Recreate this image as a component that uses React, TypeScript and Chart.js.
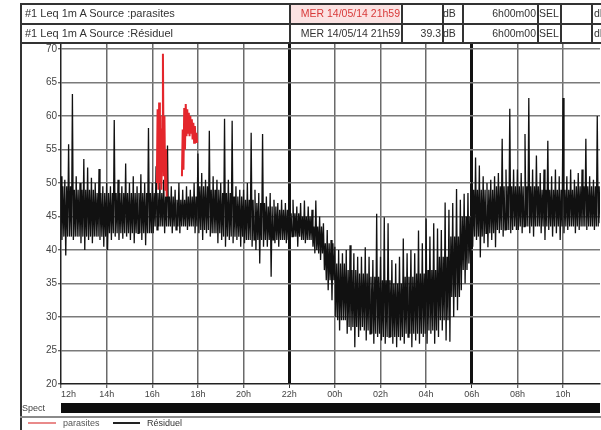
import React, { useEffect, useRef } from "react";
import { Chart, registerables } from "chart.js";
Chart.register(...registerables);

const FONT = '"Liberation Sans", Arial, Helvetica, sans-serif';

// ---- data ----
const xTickHours = [12, 14, 16, 18, 20, 22, 24, 26, 28, 30, 32, 34];
const xEndHour = 35.62;
const yTickValues = [20, 25, 30, 35, 40, 45, 50, 55, 60, 65, 70];
const thickHours = [22, 30];

// Résiduel: 10-minute bins from 12:00 (max and min of each bin)
const binStartHour = 12;
const binMinutes = 10;
const residuelHigh = [
  51, 50.5, 55.8, 63.3, 51, 50,
  53.6, 52.3, 50.8, 50, 52.1, 49.5,
  50, 49.5, 59.4, 50.5, 49.5, 52.9,
  50, 51, 49.5, 51.3, 50, 58.2,
  50, 52.5, 50, 50.5, 55.6, 49.5,
  49, 50, 49, 49.5, 49, 50,
  54.4, 51.5, 50.5, 57.8, 51, 50.5,
  50, 59.6, 50.5, 59.3, 49.5, 49,
  49, 50, 57.5, 49, 48.5, 57.3,
  48, 48.5, 47.5, 47, 47.5, 47,
  47, 47.5, 46.5, 47, 47.4, 46.5,
  46, 47.4, 45, 44, 43, 41.5,
  40.5, 40, 39.5, 40, 40.7, 39.5,
  39, 39, 40.4, 39, 38.5, 45.4,
  39, 44.9, 44, 38.5, 38, 39,
  41.7, 39.5, 40, 39.5, 42.9, 41,
  44.7, 42, 44, 43.2, 43, 47.1,
  46, 47, 49.1, 47.5, 48.4, 48.5,
  51, 53.8, 52.6, 51, 50, 50.5,
  51, 51.5, 56.6, 52, 61.1, 52,
  52, 51.5, 57.3, 62.7, 52, 54.1,
  51.5, 52, 56.3, 51, 52, 51,
  62.7, 51, 52, 50.5, 51.5, 52,
  56.6, 51, 50.5, 60,
];
const residuelLow = [
  41.5, 39.2, 42, 41.5, 42, 41,
  40, 41.5, 41, 42, 41.5, 40.5,
  40, 41.5, 42, 41.5, 41.7, 42,
  41.5, 41, 42.5, 41.5, 40.7, 42.5,
  42.5, 43, 43.5, 42.5, 43.5, 42.5,
  43, 42.5, 43.5, 43, 43.5, 42.5,
  42.5, 41.5, 42.5, 42, 42.5, 41,
  41.5, 40.5, 41.5, 41, 41.5, 40.5,
  41, 41.5, 40.5, 40, 38, 40.5,
  40.5, 36, 41, 40.5, 41.5, 41,
  41.5, 42, 40.5, 41.5, 41, 41.5,
  40.5, 40, 38.5, 37, 34, 32.5,
  30, 28, 29.5, 27.5, 28, 25.5,
  27, 28.5, 26.5, 27.5, 26, 27,
  26.5, 26, 27, 26, 25.5, 26.5,
  26, 27, 25.5, 26.5, 26, 27,
  26, 27.5, 26, 27, 28, 26.5,
  26.3, 30, 31, 34, 35, 38,
  40.5, 41.5, 38.9, 41, 40.4, 41.5,
  40.4, 42.5, 42, 43, 42.5, 43.5,
  43, 42.5, 43.5, 42.5, 42, 43.5,
  42.5, 41.5, 43, 42, 42.5, 41.5,
  42.5, 43, 43.5, 42.5, 43, 43.5,
  43, 43.5, 43, 43.5,
];
// dense core of the band, per half hour from 12:00
const coreMinutes = 30;
const coreTop = [
  49.5, 49, 49, 48.5, 48.5, 48.5, 48.5, 48.5, 48.5, 48, 47.5, 48,
  49.5, 49, 48.5, 48, 47.5, 47, 46.5, 46, 45.5, 45, 43.5, 41,
  38, 37, 36.5, 36, 35.5, 35, 36, 36.5, 37, 39, 42, 45,
  49, 49, 49.5, 49.5, 49.5, 49.5, 49, 49, 49, 49.5, 49.5, 49.5,
];
const coreBottom = [
  42, 42, 42, 42, 42.5, 42.5, 42.5, 42.5, 43.5, 43.5, 43.5, 43.5,
  43, 42.5, 42, 42, 41.5, 41.5, 41.5, 41.5, 42, 41.5, 39.5, 35.5,
  29.5, 28.5, 28, 27.5, 27, 27, 27.5, 27.5, 28, 29.5, 33, 37,
  42, 42.5, 43, 43, 43.5, 43.5, 43.5, 43.5, 43.5, 43.5, 43.5, 44,
];

const parasitesStepMinutes = 2;
const parasitesStartA = 16.2; // 16:12
const parasitesA = [50, 61, 49, 62, 50, 60, 49, 58, 69.3, 51, 60, 49, 55, 48];
const parasitesStartB = 17.3; // 17:18
const parasitesB = [51, 58, 52, 61.2, 55, 61.8, 57, 61, 57.5, 60.5, 57, 60, 57.5, 59.5, 56.5, 59, 56, 58.5, 56, 57.5, 56];

const headerLabels = ["#1 Leq 1m A Source :parasites", "#1 Leq 1m A Source :Résiduel"];
const headerDates = ["MER 14/05/14 21h59", "MER 14/05/14 21h59"];
const headerValues = ["", "39.3"];
const headerUnit = "dB";
const headerDurations = ["6h00m00", "6h00m00"];
const headerSel = "SEL";
const legendLabels = ["parasites", "Résiduel"];
const spectLabel = "Spect";

const RED = "#e4262c";
const BLACK = "#111";

function buildResiduel() {
  const pts: { x: number; y: number }[] = [];
  const q = binMinutes / 4 / 60;
  for (let i = 0; i < residuelHigh.length; i++) {
    const t0 = binStartHour + (i * binMinutes) / 60;
    const k = Math.floor((i * binMinutes) / coreMinutes);
    pts.push({ x: t0, y: residuelHigh[i] });
    pts.push({ x: t0 + q, y: residuelLow[i] });
    pts.push({ x: t0 + 2 * q, y: coreTop[k] });
    pts.push({ x: t0 + 3 * q, y: coreBottom[k] });
  }
  return pts;
}

function buildParasites() {
  const pts: { x: number; y: number | null }[] = [];
  parasitesA.forEach((v, j) => pts.push({ x: parasitesStartA + (j * parasitesStepMinutes) / 60, y: v }));
  pts.push({ x: (parasitesStartA + parasitesStartB) / 2 + 0.2, y: null });
  parasitesB.forEach((v, j) => pts.push({ x: parasitesStartB + (j * parasitesStepMinutes) / 60, y: v }));
  return pts;
}

const spectPlugin = {
  id: "spect",
  afterDraw(chart: any) {
    const { ctx } = chart;
    const xs = chart.scales.x;
    const area = chart.chartArea;
    const x0 = xs.getPixelForValue(xs.min);
    const x1 = xs.getPixelForValue(xs.max);
    ctx.save();
    ctx.fillStyle = "#0d0d0d";
    ctx.fillRect(x0, area.bottom + 19, x1 - x0, 10);
    ctx.fillStyle = "#444";
    ctx.font = `9px ${FONT}`;
    ctx.textBaseline = "middle";
    ctx.textAlign = "left";
    ctx.fillText(spectLabel, 22, area.bottom + 25);
    ctx.restore();
  },
};

function pad2(n: number) {
  return (n < 10 ? "0" : "") + n + "h";
}

const colLines = [289, 401, 442, 462, 537, 560, 591];

export default function App() {
  const ref = useRef<HTMLCanvasElement>(null);
  useEffect(() => {
    const chart = new Chart(ref.current!, {
      type: "line",
      data: {
        datasets: [
          {
            label: legendLabels[0],
            data: buildParasites(),
            borderColor: RED,
            borderWidth: 2,
            pointRadius: 0,
            spanGaps: false,
            tension: 0,
          },
          {
            label: legendLabels[1],
            data: buildResiduel(),
            borderColor: BLACK,
            borderWidth: 1.3,
            pointRadius: 0,
            tension: 0,
          },
        ],
      },
      options: {
        animation: false,
        responsive: false,
        devicePixelRatio: 1,
        layout: { padding: { left: 20, top: 43, right: 0, bottom: 24 } },
        plugins: { legend: { display: false }, tooltip: { enabled: false }, title: { display: false } },
        scales: {
          x: {
            type: "linear",
            min: 12,
            max: xEndHour,
            afterBuildTicks: (s: any) => {
              s.ticks = [...xTickHours, xEndHour].map((v) => ({ value: v }));
            },
            afterFit: (s: any) => {
              s.height = 22;
            },
            ticks: {
              autoSkip: false,
              maxRotation: 0,
              align: "inner",
              padding: 1,
              color: "#444",
              font: { family: FONT, size: 9 },
              callback: (v: any) => (xTickHours.includes(v) ? pad2(v % 24) : ""),
            },
            grid: {
              color: (c: any) => {
                const v = c.tick?.value;
                if (v === 12 || v === xEndHour) return "rgba(0,0,0,0)";
                return thickHours.includes(v) ? "#111" : "#6a6a6a";
              },
              lineWidth: (c: any) => (thickHours.includes(c.tick?.value) ? 3 : 1.5),
              tickLength: 4,
              tickWidth: 1,
              tickColor: (c: any) => (c.tick?.value === xEndHour ? "rgba(0,0,0,0)" : "#333"),
            },
            border: { display: true, color: "#222", width: 1.5 },
          },
          y: {
            type: "linear",
            min: 20,
            max: 70.9,
            afterBuildTicks: (s: any) => {
              s.ticks = yTickValues.map((v) => ({ value: v }));
            },
            afterFit: (s: any) => {
              s.width = 41;
            },
            ticks: {
              padding: 1,
              color: "#444",
              font: { family: FONT, size: 10 },
              callback: (v: any) => String(v),
            },
            grid: {
              color: (c: any) => (c.tick?.value === 20 ? "rgba(0,0,0,0)" : "#7a7a7a"),
              lineWidth: 1.5,
              tickLength: 3,
              tickWidth: 1,
              tickColor: "#333",
            },
            border: { display: true, color: "#222", width: 1.5 },
          },
        },
      },
      plugins: [spectPlugin],
    } as any);
    return () => chart.destroy();
  }, []);

  const txt: React.CSSProperties = {
    position: "absolute",
    fontFamily: FONT,
    fontSize: 10.5,
    color: "#333",
    whiteSpace: "nowrap",
    lineHeight: "18px",
  };

  return (
    <div style={{ position: "fixed", left: 0, top: 0, width: 601, height: 430, background: "#fff", overflow: "hidden" }}>
      <canvas ref={ref} width={601} height={430} style={{ position: "absolute", left: 0, top: 0, width: 601, height: 430 }} />
      {/* header table */}
      <div style={{ position: "absolute", left: 290, top: 4.5, width: 110, height: 18, background: "#fbe2e2" }} />
      {[3, 23, 42].map((y) => (
        <div key={"h" + y} style={{ position: "absolute", left: 20, top: y, width: 600, height: 1.5, background: "#333" }} />
      ))}
      <div style={{ position: "absolute", left: 20, top: 3, width: 1.5, height: 427, background: "#333" }} />
      {colLines.map((x) => (
        <div key={"v" + x} style={{ position: "absolute", left: x, top: 3, width: 1.5, height: 40, background: "#333" }} />
      ))}
      {[0, 1].map((r) => {
        const top = r === 0 ? 4 : 24;
        return (
          <React.Fragment key={"row" + r}>
            <span style={{ ...txt, fontSize: 11, left: 25, top }}>{headerLabels[r]}</span>
            <span style={{ ...txt, right: 601 - 400, top, color: r === 0 ? "#d83a3a" : "#333" }}>{headerDates[r]}</span>
            <span style={{ ...txt, right: 601 - 441, top }}>{headerValues[r]}</span>
            <span style={{ ...txt, left: 443, top }}>{headerUnit}</span>
            <span style={{ ...txt, right: 601 - 536, top }}>{headerDurations[r]}</span>
            <span style={{ ...txt, left: 539, top }}>{headerSel}</span>
            <span style={{ ...txt, left: 594, top }}>{headerUnit}</span>
          </React.Fragment>
        );
      })}
      {/* legend row */}
      <div style={{ position: "absolute", left: 20, top: 416, width: 581, height: 1.5, background: "#8a8a8a" }} />
      <div style={{ position: "absolute", left: 28, top: 422, width: 28, height: 2, background: "#e98a8a" }} />
      <span style={{ ...txt, fontSize: 9, left: 63, top: 417, lineHeight: "12px", color: "#555" }}>{legendLabels[0]}</span>
      <div style={{ position: "absolute", left: 113, top: 422, width: 27, height: 1.5, background: "#222" }} />
      <span style={{ ...txt, fontSize: 9, left: 147, top: 417, lineHeight: "12px", color: "#333" }}>{legendLabels[1]}</span>
    </div>
  );
}
